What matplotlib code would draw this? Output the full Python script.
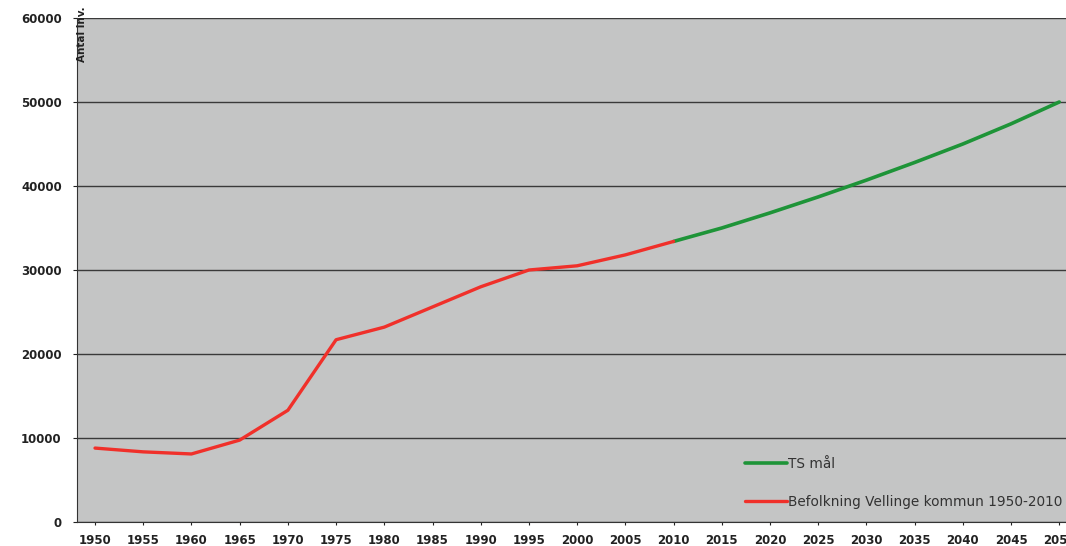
import matplotlib
matplotlib.use("Agg")
import matplotlib.pyplot as plt

# ── Data ──────────────────────────────────────────────────────────────────────
years_hist = [1950, 1955, 1960, 1965, 1970, 1975, 1980, 1985, 1990, 1995, 2000, 2005, 2010]
pop_hist = [8800, 8350, 8100, 9750, 13300, 21700, 23200, 25600, 28000, 30000, 30500, 31800, 33400]

years_goal = [2010, 2015, 2020, 2025, 2030, 2035, 2040, 2045, 2050]
pop_goal = [33400, 35000, 36800, 38700, 40700, 42800, 45000, 47400, 50000]

x_ticks = list(range(1950, 2055, 5))
y_ticks = [0, 10000, 20000, 30000, 40000, 50000, 60000]

C_BG = "#c4c5c5"
C_RED = "#f0302a"
C_GREEN = "#1e9438"

fig = plt.figure(figsize=(10.66, 5.46), dpi=100, facecolor="white")
ax = fig.add_axes([77 / 1066, 24 / 546, 989 / 1066, 504 / 546])
ax.set_facecolor(C_BG)

ax.plot(years_goal, pop_goal, color=C_GREEN, lw=2.6, label="TS mål", solid_capstyle="round")
ax.plot(years_hist, pop_hist, color=C_RED, lw=2.4, label="Befolkning Vellinge kommun 1950-2010",
        solid_capstyle="round")

ax.set_xlim(1948.13, 2050.7)
ax.set_ylim(0, 60000)
ax.set_xticks(x_ticks)
ax.set_xticklabels([str(y) for y in x_ticks])
ax.set_yticks(y_ticks)
ax.set_yticklabels([str(v) for v in y_ticks])
ax.yaxis.grid(True, color="#3a3a3a", lw=1.0)
ax.set_axisbelow(True)

for lab in ax.get_xticklabels() + ax.get_yticklabels():
    lab.set_fontweight("bold")
    lab.set_fontsize(8.5)
ax.tick_params(axis="x", length=2, pad=7, colors="#222222")
ax.tick_params(axis="y", length=3, pad=8, colors="#222222")

ax.spines["right"].set_visible(False)
ax.spines["top"].set_visible(False)
ax.spines["left"].set_color("#333333")
ax.spines["bottom"].set_color("#333333")

fig.text(82 / 1066, 1 - 62 / 546, "Antal inv.", rotation=90, fontsize=7.5, fontweight="bold",
         ha="center", va="bottom", color="#222222")

ax.legend(loc="center left", bbox_to_anchor=(0.675, 0.078), frameon=False, fontsize=9.8,
          borderpad=0, borderaxespad=0, handlelength=3.1, handletextpad=0.1,
          labelspacing=1.75, labelcolor="#333333")

fig.savefig("out.png", dpi=100, facecolor="white")
